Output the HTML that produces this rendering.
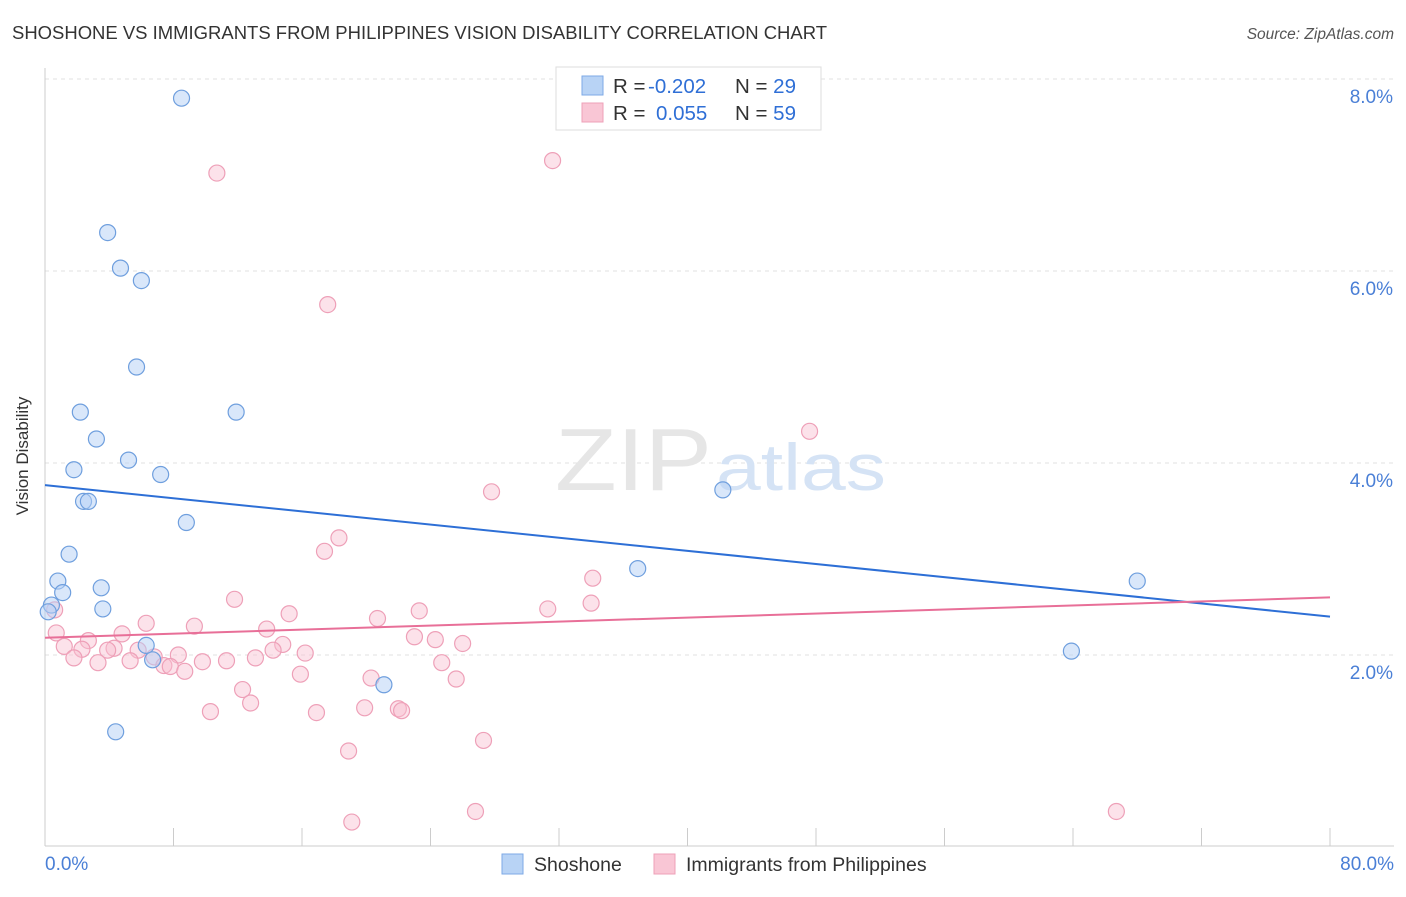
<!DOCTYPE html>
<html><head><meta charset="utf-8"><style>
body{margin:0;background:#fff;font-family:"Liberation Sans",sans-serif;}
svg text{font-family:"Liberation Sans",sans-serif;}
</style></head><body>
<svg width="1406" height="892" xmlns="http://www.w3.org/2000/svg">
<text x="12" y="39" font-size="18.4" fill="#333" textLength="815" lengthAdjust="spacingAndGlyphs">SHOSHONE VS IMMIGRANTS FROM PHILIPPINES VISION DISABILITY CORRELATION CHART</text>
<text x="1394" y="39" font-size="15.5" fill="#555" font-style="italic" text-anchor="end">Source: ZipAtlas.com</text>
<g id="grid"></g>
<text x="555" y="490" font-size="88" fill="#e6e6e6" font-family="Liberation Serif" textLength="157" lengthAdjust="spacingAndGlyphs">ZIP</text>
<text x="716" y="490" font-size="66" fill="#d5e3f5" textLength="170" lengthAdjust="spacingAndGlyphs">atlas</text>
<line x1="45" y1="68" x2="45" y2="846" stroke="#ccc"/>
<line x1="45" y1="846" x2="1394" y2="846" stroke="#ccc"/>
<text x="28" y="456" font-size="17" fill="#333" text-anchor="middle" transform="rotate(-90 28 456)">Vision Disability</text>
<text x="45" y="870" font-size="19" fill="#4a7fd6">0.0%</text>
<text x="1394" y="870" font-size="19" fill="#4a7fd6" text-anchor="end">80.0%</text>
<g id="marks"></g>
<g>
<rect x="556" y="67" width="265" height="63" fill="#fff" stroke="#ddd"/>
<rect x="582" y="76" width="21" height="19" fill="#b8d3f5" stroke="#7eaae6"/>
<rect x="582" y="103" width="21" height="19" fill="#f9c6d5" stroke="#eea0b8"/>
<text x="613" y="93" font-size="20.5" fill="#333">R = <tspan x="648" fill="#2f6fd6">-0.202</tspan><tspan x="735">N = </tspan><tspan fill="#2f6fd6">29</tspan></text>
<text x="613" y="120" font-size="20.5" fill="#333">R = <tspan x="656" fill="#2f6fd6">0.055</tspan><tspan x="735">N = </tspan><tspan fill="#2f6fd6">59</tspan></text>
</g>
<g>
<rect x="502" y="854" width="21" height="20" fill="#b8d3f5" stroke="#7eaae6"/>
<text x="534" y="871" font-size="19.5" fill="#333">Shoshone</text>
<rect x="654" y="854" width="21" height="20" fill="#f9c6d5" stroke="#eea0b8"/>
<text x="686" y="871" font-size="19.5" fill="#333">Immigrants from Philippines</text>
</g>
</svg>
<script>
const yTicks=[2,4,6,8];
const yTickLabels=["2.0%","4.0%","6.0%","8.0%"];
const xTicks=[0,8,16,24,32,40,48,56,64,72,80];
const shoshoneX=[8.5,3.9,4.7,6.0,5.7,2.2,11.9,3.2,5.2,1.8,7.2,2.4,2.7,8.8,1.5,0.8,3.5,1.1,0.4,3.6,0.2,6.3,6.7,21.1,4.4,42.2,36.9,68.0,63.9];
const shoshoneY=[7.8,6.4,6.03,5.9,5.0,4.53,4.53,4.25,4.03,3.93,3.88,3.6,3.6,3.38,3.05,2.77,2.7,2.65,2.52,2.48,2.45,2.1,1.95,1.69,1.2,3.72,2.9,2.77,2.04];
const philX=[10.7,31.6,17.6,47.6,27.8,18.3,17.4,34.1,11.8,34.0,31.3,23.3,15.2,20.7,6.3,9.3,13.8,4.8,23.0,24.3,2.7,14.8,26.0,1.2,2.3,4.3,5.8,3.9,14.2,16.2,8.3,6.8,1.8,13.1,24.7,3.3,5.3,9.8,11.3,7.4,7.8,8.7,15.9,20.3,25.6,12.3,12.8,10.3,16.9,19.9,22.0,22.2,27.3,18.9,26.8,19.1,66.7,0.6,0.7];
const philY=[7.02,7.15,5.65,4.33,3.7,3.22,3.08,2.8,2.58,2.54,2.48,2.46,2.43,2.38,2.33,2.3,2.27,2.22,2.19,2.16,2.15,2.11,2.12,2.09,2.06,2.07,2.05,2.05,2.05,2.02,2.0,1.98,1.97,1.97,1.92,1.92,1.94,1.93,1.94,1.89,1.88,1.83,1.8,1.76,1.75,1.64,1.5,1.41,1.4,1.45,1.44,1.42,1.11,1.0,0.37,0.26,0.37,2.47,2.23];
const shoshoneTrend=[3.77,2.4];
const philTrend=[2.18,2.6];
const NS="http://www.w3.org/2000/svg";
const xs=v=>45+v/80*1285, ys=v=>847-v*96;
function mk(tag,attrs,parent){const e=document.createElementNS(NS,tag);for(const k in attrs)e.setAttribute(k,attrs[k]);parent.appendChild(e);return e;}
const grid=document.getElementById('grid'), marks=document.getElementById('marks');
yTicks.forEach((t,i)=>{
 const l=mk('line',{x1:45,x2:1394,y1:ys(t),y2:ys(t),stroke:'#e2e2e2','stroke-dasharray':'4 4'},grid);
 
 
 const tx=mk('text',{x:1393,y:ys(t)+24,'font-size':19,fill:'#4a7fd6','text-anchor':'end'},grid);
 tx.textContent=yTickLabels[i];
 
 
});
xTicks.forEach(t=>{
 const l=mk('line',{x1:xs(t),x2:xs(t),y1:828,y2:846,stroke:'#ccc'},grid);
 
 
});
philX.forEach((x,i)=>{
 const c=mk('circle',{cx:xs(x),cy:ys(philY[i]),r:8,fill:'rgba(248,190,208,0.45)',stroke:'#eea0b8','stroke-width':1.2},marks);
 
 
});
shoshoneX.forEach((x,i)=>{
 const c=mk('circle',{cx:xs(x),cy:ys(shoshoneY[i]),r:8,fill:'rgba(180,208,245,0.5)',stroke:'#6f9fde','stroke-width':1.2},marks);
 
 
});
const t1=mk('line',{x1:xs(0),y1:ys(shoshoneTrend[0]),x2:xs(80),y2:ys(shoshoneTrend[1]),stroke:'#2d6fd6','stroke-width':2},marks);


const t2=mk('line',{x1:xs(0),y1:ys(philTrend[0]),x2:xs(80),y2:ys(philTrend[1]),stroke:'#e86f98','stroke-width':2},marks);


</script>
</body></html>
